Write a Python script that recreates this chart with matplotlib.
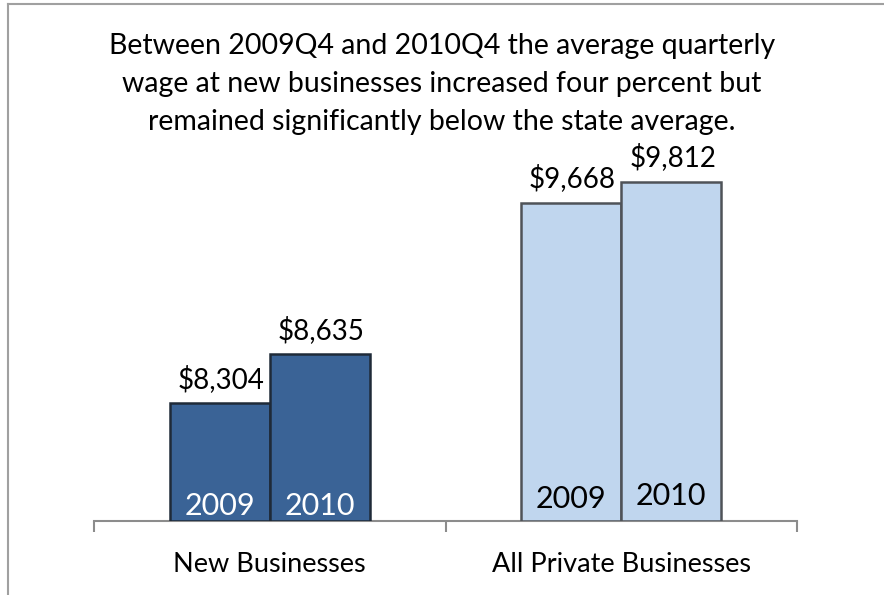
import numpy as np
import matplotlib.pyplot as plt
from matplotlib.lines import Line2D

# data
categories = ['New Businesses', 'All Private Businesses']
years = ['2009', '2010']
wages_2009 = [8304, 9668]
wages_2010 = [8635, 9812]
title = ('Between 2009Q4 and 2010Q4 the average quarterly\n'
         'wage at new businesses increased four percent but\n'
         'remained significantly below the state average.')

plt.rcParams['font.family'] = ['Lato', 'DejaVu Sans']

fig = plt.figure(figsize=(8.84, 5.95), dpi=100)
ax = fig.add_axes([94 / 884, 74 / 595, 703 / 884, 367 / 595])

x = np.arange(len(categories))
w = 0.285
fills = ['#3A6396', '#C0D6EE']
edges = ['#1f2a38', '#4f5358']
year_colors = ['white', 'black']
# baseline offsets (points) of the year labels inside the bars
year_dy = [[4.3, 4.3], [9.4, 11.5]]

for i in range(len(categories)):
    for j, vals in enumerate([wages_2009, wages_2010]):
        xpos = x[i] + (j - 0.5) * w
        ax.bar(xpos, vals[i] - 7500, bottom=7500, width=w, color=fills[i],
               edgecolor=edges[i], linewidth=1.8, zorder=3)
        ax.annotate('${:,}'.format(vals[i]), (xpos, vals[i]), xytext=(1, 11),
                    textcoords='offset points', ha='center', va='baseline',
                    fontsize=20)
        ax.annotate(years[j], (xpos, 7500), xytext=(0, year_dy[i][j]),
                    textcoords='offset points', ha='center', va='baseline',
                    fontsize=22, color=year_colors[i], zorder=4)

ax.set_xlim(-0.5, 1.5)
ax.set_ylim(7500, 10000)
ax.set_xticks([-0.5, 0.5, 1.5])
ax.set_xticklabels([])
ax.tick_params(axis='x', length=8, width=1.5, color='#8c8c8c', direction='out')
ax.set_yticks([])
for s in ['top', 'right', 'left']:
    ax.spines[s].set_visible(False)
ax.spines['bottom'].set_color('#8c8c8c')
ax.spines['bottom'].set_linewidth(1.5)

for i, c in enumerate(categories):
    ax.annotate(c, (x[i], 7500), xytext=(0, -37), textcoords='offset points',
                ha='center', va='baseline', fontsize=19.5)

fig.text(0.5, 1 - 84 / 595, title, ha='center', va='center', fontsize=20.5,
         linespacing=1.55)

# outer frame (left and top edges visible)
fig.add_artist(Line2D([8 / 884, 8 / 884], [0, 1 - 4 / 595], transform=fig.transFigure,
                      color='#a0a0a0', linewidth=1.5))
fig.add_artist(Line2D([8 / 884, 1], [1 - 4 / 595, 1 - 4 / 595], transform=fig.transFigure,
                      color='#a0a0a0', linewidth=1.5))

fig.savefig('out.png', dpi=100)
